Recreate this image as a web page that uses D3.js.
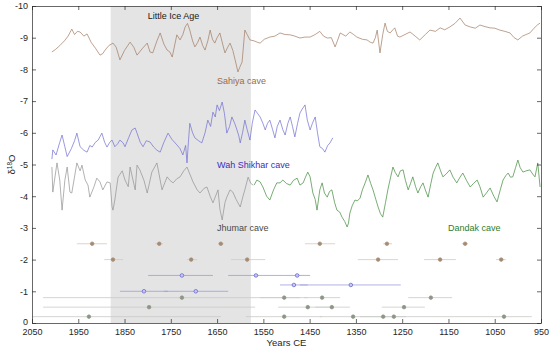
<!DOCTYPE html>
<html>
<head>
<meta charset="utf-8">
<script src="https://cdn.jsdelivr.net/npm/d3@7"></script>
<style>
  body { margin: 0; background: #fff; }
  svg { font-family: "Liberation Sans", Arial, sans-serif; }
</style>
</head>
<body>
<script>
// --- data (years CE, d18O permil) ---
const xTicks = [2050, 1950, 1850, 1750, 1650, 1550, 1450, 1350, 1250, 1150, 1050, 950];
const yTicks = [0, -1, -2, -3, -4, -5, -6, -7, -8, -9, -10];
const liaSpan = [1880, 1577];

const sahiyaYears = [2007,2000,1990,1980,1972,1964,1958,1952,1946,1938,1931,1922,1912,1903,1897,1892,1884,1875,1868,1860,1850,1838,1830,1823,1812,1801,1795,1789,1780,1773,1765,1758,1752,1747,1737,1730,1724,1719,1714,1709,1703,1698,1692,1687,1681,1676,1670,1665,1660,1655,1650,1644,1638,1633,1627,1622,1616,1611,1605,1600,1596,1590,1585,1579,1570,1562,1557,1548,1536,1525,1514,1503,1492,1482,1471,1460,1449,1438,1428,1420,1412,1403,1395,1390,1384,1372,1363,1355,1348,1336,1326,1318,1313,1308,1304,1298,1292,1287,1282,1276,1270,1266,1260,1255,1244,1233,1222,1212,1200,1190,1178,1168,1158,1147,1136,1125,1114,1103,1092,1082,1071,1060,1050,1039,1028,1017,1008,1000,990,982,974,965,958,952];
const sahiyaD18O = [-8.55,-8.62,-8.75,-8.9,-9.05,-9.27,-9.1,-9.2,-9.18,-9.05,-9.12,-8.85,-8.65,-8.45,-8.5,-8.61,-8.75,-8.83,-8.7,-8.3,-8.6,-8.86,-8.7,-8.45,-8.65,-8.83,-8.55,-8.52,-8.9,-9.15,-8.8,-8.61,-8.55,-8.39,-9.09,-8.93,-9.1,-9.34,-9.45,-9.24,-8.9,-8.71,-8.85,-9.02,-8.75,-8.61,-8.9,-9.24,-8.95,-8.83,-9.0,-9.15,-8.8,-8.52,-8.7,-8.83,-8.6,-8.3,-7.92,-8.1,-8.23,-9.24,-9.1,-8.93,-8.9,-8.85,-8.83,-8.95,-9.02,-9.05,-9.15,-9.1,-9.09,-9.05,-8.99,-9.02,-9.02,-9.1,-9.2,-9.05,-8.99,-9.0,-8.71,-8.9,-9.15,-9.05,-9.18,-9.1,-9.02,-8.95,-8.93,-8.85,-8.83,-9.0,-9.24,-8.52,-9.1,-9.46,-9.2,-9.15,-9.25,-9.31,-9.05,-9.02,-9.1,-9.18,-9.05,-8.93,-9.1,-9.24,-9.2,-9.31,-9.25,-9.34,-9.45,-9.62,-9.4,-9.34,-9.3,-9.4,-9.35,-9.31,-9.3,-9.24,-9.2,-9.15,-9.0,-8.93,-9.05,-9.1,-9.15,-9.3,-9.4,-9.46];

const wahYears = [2007,2005,1998,1990,1985,1979,1974,1965,1958,1953,1946,1938,1931,1925,1920,1913,1907,1899,1893,1888,1882,1877,1871,1865,1860,1853,1849,1841,1834,1827,1823,1816,1810,1803,1795,1787,1780,1773,1765,1756,1748,1737,1730,1724,1718,1715,1712,1709,1703,1698,1690,1683,1676,1670,1664,1659,1654,1650,1645,1639,1634,1629,1623,1618,1612,1607,1603,1600,1595,1590,1585,1579,1574,1568,1562,1557,1551,1546,1541,1536,1530,1525,1520,1514,1508,1503,1497,1492,1487,1482,1476,1471,1466,1460,1455,1449,1444,1438,1433,1428,1422,1417,1411,1406,1400];
const wahD18O = [-5.17,-5.46,-5.3,-5.7,-5.93,-5.56,-5.25,-5.5,-5.75,-5.99,-5.56,-5.45,-5.39,-5.6,-5.55,-5.7,-5.77,-5.99,-5.7,-5.55,-5.7,-5.77,-5.56,-5.65,-5.77,-5.68,-5.56,-5.85,-6.09,-6.15,-5.99,-5.7,-5.56,-5.75,-5.71,-5.55,-5.45,-5.39,-5.7,-5.99,-5.8,-5.62,-5.5,-5.3,-5.6,-5.05,-5.7,-6.3,-6.0,-5.84,-5.75,-5.68,-6.0,-6.4,-6.2,-6.65,-6.5,-6.88,-6.7,-6.97,-6.6,-5.99,-6.2,-6.5,-6.3,-6.09,-5.9,-5.68,-6.0,-6.4,-6.1,-5.77,-6.3,-6.72,-6.6,-6.5,-6.3,-6.09,-6.3,-6.4,-6.1,-5.84,-6.2,-6.4,-6.1,-5.93,-6.3,-6.5,-6.2,-5.87,-6.3,-6.62,-6.75,-6.88,-6.4,-6.09,-6.3,-6.5,-6.0,-5.56,-5.5,-5.39,-5.6,-5.68,-5.84];

const jhumarYears = [2007,2005,1996,1990,1985,1979,1974,1968,1964,1953,1946,1942,1935,1929,1925,1916,1910,1903,1897,1888,1881,1877,1875,1871,1864,1855,1849,1842,1838,1827,1823,1817,1808,1801,1791,1780,1769,1758,1752,1745,1737,1730,1722,1715,1709,1702,1693,1687,1678,1672,1665,1659,1648,1644,1639,1633,1629,1622,1616,1609,1600,1594,1590,1583,1577,1572];
const jhumarD18O = [-4.92,-4.13,-5.05,-4.51,-3.56,-4.5,-4.92,-4.13,-4.1,-5.05,-4.8,-4.98,-4.51,-4.35,-3.97,-4.3,-4.57,-4.45,-4.2,-4.45,-4.42,-3.66,-3.56,-3.88,-4.6,-4.8,-4.51,-4.3,-4.92,-4.2,-4.98,-4.83,-4.5,-4.1,-4.76,-5.05,-4.2,-4.61,-4.5,-4.42,-4.55,-4.61,-4.8,-4.92,-4.7,-4.45,-4.2,-4.1,-4.25,-4.29,-4.0,-3.79,-4.2,-3.6,-3.25,-3.8,-3.97,-4.2,-4.13,-3.9,-3.66,-4.0,-4.2,-4.6,-4.4,-4.35];

const dandakYears = [1570,1564,1557,1551,1543,1536,1528,1521,1514,1508,1500,1492,1485,1477,1471,1464,1459,1454,1449,1443,1438,1434,1428,1423,1418,1412,1407,1402,1396,1391,1385,1380,1374,1369,1366,1363,1358,1352,1347,1341,1336,1330,1324,1318,1313,1307,1302,1297,1292,1286,1281,1275,1270,1265,1259,1254,1248,1243,1237,1232,1227,1221,1216,1210,1205,1200,1194,1188,1183,1178,1173,1167,1162,1155,1147,1140,1132,1125,1119,1111,1103,1096,1088,1082,1075,1068,1060,1052,1045,1038,1032,1026,1021,1016,1011,1005,1000,995,989,982,974,968,963,957,952];
const dandakD18O = [-4.35,-4.51,-4.45,-4.29,-4.0,-3.88,-4.2,-4.42,-4.42,-4.51,-4.4,-4.35,-4.5,-4.57,-4.35,-4.42,-4.6,-4.76,-4.61,-4.1,-3.9,-3.56,-4.2,-4.42,-4.1,-3.97,-4.15,-4.2,-3.8,-3.56,-3.5,-3.34,-3.2,-3.03,-3.15,-3.47,-3.7,-3.88,-3.85,-3.94,-4.2,-4.42,-4.67,-4.4,-4.2,-3.9,-3.66,-3.45,-3.34,-3.8,-4.2,-4.6,-4.92,-4.75,-4.61,-4.8,-4.83,-4.5,-4.2,-4.4,-4.61,-4.3,-4.1,-4.3,-4.42,-4.2,-3.97,-4.4,-4.73,-4.9,-5.05,-4.8,-4.61,-4.7,-4.83,-4.6,-4.42,-4.6,-4.73,-4.5,-4.29,-4.4,-4.51,-4.3,-3.97,-4.1,-4.26,-4.0,-3.82,-4.2,-4.51,-4.65,-4.73,-4.6,-4.61,-4.9,-5.14,-4.9,-4.76,-4.8,-4.83,-4.7,-4.61,-5.05,-4.29];

// U-Th ages: [age, older bound, younger bound], one list per row
const sahiyaAgesA = [[1920,1953,1888],[1775,1784,1767],[1642,1648,1635],[1428,1460,1395],[1283,1291,1272],[1114,1121,1108]];
const sahiyaAgesB = [[1875,1894,1853],[1706,1715,1693],[1585,1620,1546],[1302,1346,1259],[1168,1203,1134],[1036,1047,1026]];
const wahAgesA = [[1726,1799,1659],[1566,1626,1505],[1477,1505,1449]];
const wahAgesB = [[1484,1514,1454],[1361,1471,1253]];
const wahAgesC = [[1808,1860,1756],[1696,1765,1626]];
const grayAgesA = [[1726,2026,1471],[1505,1557,1454],[1423,1462,1384],[1188,1237,1142]];
const grayAgesB = [[1797,2026,1568],[1454,1518,1406],[1402,1438,1363],[1246,1294,1201]];
const grayAgesC = [[1927,2050,1642],[1505,1588,1423],[1356,1428,1285],[1291,1341,1242],[1268,1298,1168],[1030,1168,970]];
const ageRowLevels = [-2.5, -2.0, -1.5, -1.2, -1.0, -0.8, -0.5, -0.2];

const width = 550, height = 349;
const margin = {top: 6, right: 9, bottom: 26, left: 32};

const x = d3.scaleLinear().domain([2050, 950]).range([margin.left, width - margin.right]);
const y = d3.scaleLinear().domain([0, -10]).range([height - margin.bottom, margin.top]);

const svg = d3.select('body').append('svg')
  .attr('width', width)
  .attr('height', height);

// little ice age band
svg.append('rect')
  .attr('x', x(liaSpan[0]))
  .attr('y', y(-10))
  .attr('width', x(liaSpan[1]) - x(liaSpan[0]))
  .attr('height', y(0) - y(-10))
  .attr('fill', '#e4e4e4');

// age error bars
const ageRows = [
  {ages: sahiyaAgesA, bar: '#d9c8b8', dot: '#a38b74', open: false},
  {ages: sahiyaAgesB, bar: '#d9c8b8', dot: '#a38b74', open: false},
  {ages: wahAgesA, bar: '#9d9de0', dot: '#5a5acb', open: true},
  {ages: wahAgesB, bar: '#9d9de0', dot: '#5a5acb', open: true},
  {ages: wahAgesC, bar: '#9d9de0', dot: '#5a5acb', open: true},
  {ages: grayAgesA, bar: '#c9cbc6', dot: '#8d9686', open: false},
  {ages: grayAgesB, bar: '#c9cbc6', dot: '#8d9686', open: false},
  {ages: grayAgesC, bar: '#c9cbc6', dot: '#8d9686', open: false}
];

ageRows.forEach(function(row, i) {
  const lvl = ageRowLevels[i];
  const g = svg.append('g');
  g.selectAll('line')
    .data(row.ages)
    .enter().append('line')
    .attr('x1', d => x(d[1]))
    .attr('x2', d => x(d[2]))
    .attr('y1', y(lvl))
    .attr('y2', y(lvl))
    .attr('stroke', row.bar)
    .attr('stroke-width', 0.8);
  g.selectAll('circle')
    .data(row.ages)
    .enter().append('circle')
    .attr('cx', d => x(d[0]))
    .attr('cy', y(lvl))
    .attr('r', 1.8)
    .attr('fill', row.open ? '#c8c8f0' : row.dot)
    .attr('stroke', row.dot)
    .attr('stroke-width', 0.7);
});

// records
const line = d3.line()
  .x(d => x(d[0]))
  .y(d => y(d[1]));

const records = [
  {years: sahiyaYears, vals: sahiyaD18O, color: '#a07a60'},
  {years: wahYears, vals: wahD18O, color: '#6f6dd2'},
  {years: jhumarYears, vals: jhumarD18O, color: '#909090'},
  {years: dandakYears, vals: dandakD18O, color: '#3f8a3a'}
];

records.forEach(function(r) {
  svg.append('path')
    .datum(d3.zip(r.years, r.vals))
    .attr('d', line)
    .attr('fill', 'none')
    .attr('stroke', r.color)
    .attr('stroke-width', 0.7)
    .attr('stroke-linejoin', 'round');
});

// axes
const fontSize = 9;
const xAxis = svg.append('g')
  .attr('transform', `translate(0,${y(0)})`)
  .call(d3.axisBottom(x).tickValues(xTicks).tickSize(-4).tickSizeOuter(0).tickPadding(5.5).tickFormat(d => String(d)));
const xTop = svg.append('g')
  .attr('transform', `translate(0,${y(-10)})`)
  .call(d3.axisTop(x).tickValues(xTicks).tickSize(-4).tickSizeOuter(0).tickFormat(''));
const yAxis = svg.append('g')
  .attr('transform', `translate(${x(2050)},0)`)
  .call(d3.axisLeft(y).tickValues(yTicks).tickSize(-4).tickSizeOuter(0).tickPadding(4).tickFormat(d => String(d)));
const yRight = svg.append('g')
  .attr('transform', `translate(${x(950)},0)`)
  .call(d3.axisRight(y).tickValues(yTicks).tickSize(-4).tickSizeOuter(0).tickFormat(''));

[xAxis, xTop, yAxis, yRight].forEach(function(a) {
  a.select('.domain').attr('stroke', '#262626').attr('stroke-width', 0.7);
  a.selectAll('.tick line').attr('stroke', '#262626').attr('stroke-width', 0.7);
  a.selectAll('.tick text')
    .attr('fill', '#262626')
    .style('font-size', fontSize + 'px')
    .style('font-family', '"Liberation Sans", Arial, sans-serif');
});
// lift the "0" label a touch so it clears the year labels
yAxis.selectAll('.tick text').filter(d => d === 0).attr('dy', '0.2em');

svg.append('text')
  .attr('x', (x(2050) + x(950)) / 2)
  .attr('y', 346)
  .attr('text-anchor', 'middle')
  .attr('fill', '#262626')
  .style('font-size', '9.5px')
  .text('Years CE');

const ylab = svg.append('text')
  .attr('transform', `translate(15,${y(-5)}) rotate(-90)`)
  .attr('text-anchor', 'middle')
  .attr('fill', '#262626')
  .style('font-size', '9.5px');
ylab.append('tspan').text('δ');
ylab.append('tspan').attr('dy', -3.5).style('font-size', '6.5px').text('18');
ylab.append('tspan').attr('dy', 3.5).text('O');

// series labels
const labels = [
  {text: 'Little Ice Age', year: 1800, val: -9.6, color: '#1a1a1a'},
  {text: 'Sahiya cave', year: 1650, val: -7.55, color: '#a06a42'},
  {text: 'Wah Shikhar cave', year: 1650, val: -4.9, color: '#3a2dbf'},
  {text: 'Jhumar cave', year: 1650, val: -2.9, color: '#4a4a4a'},
  {text: 'Dandak cave', year: 1151, val: -2.9, color: '#2f7d2f'}
];

svg.selectAll('.label')
  .data(labels)
  .enter().append('text')
  .attr('class', 'label')
  .attr('x', d => x(d.year))
  .attr('y', d => y(d.val))
  .attr('fill', d => d.color)
  .style('font-size', '9px')
  .text(d => d.text);
</script>
</body>
</html>
